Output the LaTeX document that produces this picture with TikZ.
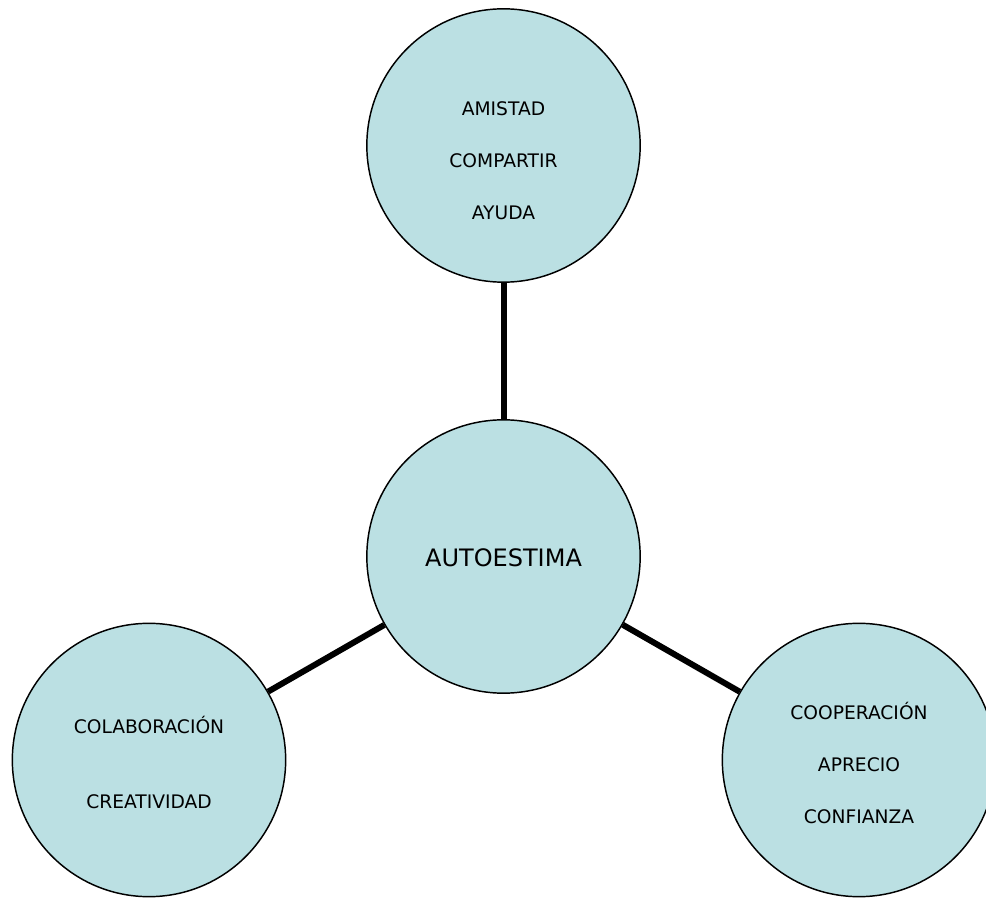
\documentclass[tikz,border=0pt]{standalone}
\usepackage{fontspec}
\setmainfont{DejaVu Sans}
\definecolor{bubblefill}{RGB}{187,224,227}
\tikzset{
  bubble/.style={circle, draw=black, line width=1.1pt, fill=bubblefill, minimum size=205pt, inner sep=0pt},
  words/.style={align=center, inner sep=0pt, font=\fontsize{14}{39}\selectfont},
  link/.style={line width=4.5pt}
}
\begin{document}
\begin{tikzpicture}[x=0.75pt, y=-0.75pt]
\useasboundingbox (0,0) rectangle (986,898);
\node (autoestima) at (503.5, 556.5) [bubble] {};
\node (amistad) at (503.5, 145.5) [bubble] {};
\node (colaboracion) at (149, 760) [bubble] {};
\node (cooperacion) at (859, 760) [bubble] {};

\node (centro) at (503.5, 558) [words, font=\fontsize{18}{22}\selectfont] {AUTOESTIMA};
\node (arriba) at (503.5, 160.5) [words] {AMISTAD\\COMPARTIR\\AYUDA};
\node (izquierda) at (149, 762.5) [words] {COLABORACIÓN\\[17pt]CREATIVIDAD};
\node (derecha) at (859, 763) [words] {COOPERACIÓN\\APRECIO\\CONFIANZA};

\draw[link] (autoestima) to (amistad);
\draw[link] (autoestima) to (colaboracion);
\draw[link] (autoestima) to (cooperacion);
\end{tikzpicture}
\end{document}
